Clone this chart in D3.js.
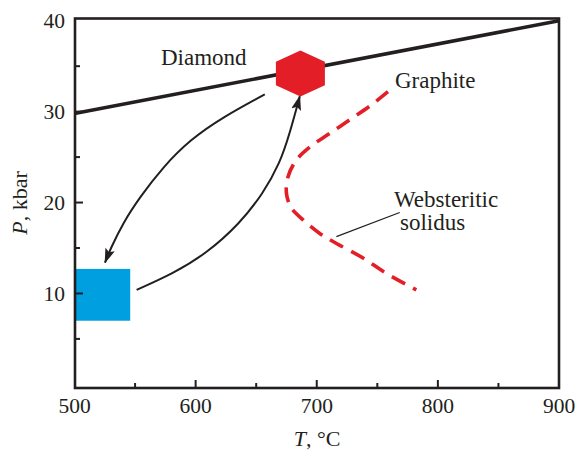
<!DOCTYPE html>
<html>
<head>
<meta charset="utf-8">
<script src="https://cdn.jsdelivr.net/npm/d3@7"></script>
<style>
  html, body { margin: 0; padding: 0; background: #fff; }
  svg { display: block; font-family: "Liberation Serif", "Times New Roman", serif; }
</style>
</head>
<body>
<svg id="chart" width="579" height="451"></svg>
<script>
// Axis ticks
const xTicks = [500, 600, 700, 800, 900];
const xMinorTicks = [550, 650, 750, 850];
const yTicks = [10, 20, 30, 40];
const yMinorTicks = [5, 15, 25, 35];

// Diamond–graphite boundary (T, °C ; P, kbar)
const diamondT = [500, 900];
const diamondP = [29.8, 40];

// Websteritic solidus
const solidusT = [758.8, 743.7, 727.2, 710.7, 694.2, 683.3, 676.3, 675.0, 679.1, 688.7, 702.5, 716.3, 738.2, 757.5, 782.2];
const solidusP = [32.2, 30.6, 29.1, 27.6, 26.1, 24.7, 22.85, 21.0, 19.4, 18.1, 16.6, 15.5, 13.9, 12.2, 10.4];

// Peak (UHP) conditions and crustal starting field
const peakT = 686.5;
const peakP = 34.2;
const crustT = [500, 546];
const crustP = [7.0, 12.7];

// Burial path (crust -> peak) and exhumation path (peak -> crust)
const burialT = [551.3, 581.5, 609.0, 636.5, 655.7, 669.5, 677.7, 686.0];
const burialP = [10.4, 12.2, 14.4, 17.7, 21.0, 24.3, 27.6, 31.7];
const exhumT = [657.1, 622.5, 595.3, 573.0, 554.0, 540.0, 529.3, 525.2];
const exhumP = [31.9, 29.4, 26.9, 23.9, 20.6, 17.75, 14.8, 13.4];

// Leader line for the solidus label
const leaderT = [716.2, 768.5];
const leaderP = [16.25, 18.9];

const svg = d3.select("#chart");
const x = d3.scaleLinear().domain([500, 900]).range([74.5, 559]);
const y = d3.scaleLinear().domain([-0.4, 40.3]).range([388, 18]);

const ink = "#231f20";
const red = "#e31e26";
const blue = "#009fe0";

// Arrowhead marker
const defs = svg.append("defs");
defs.append("marker")
  .attr("id", "head")
  .attr("viewBox", "0 0 15 10")
  .attr("refX", 14).attr("refY", 5)
  .attr("markerWidth", 15).attr("markerHeight", 10)
  .attr("markerUnits", "userSpaceOnUse")
  .attr("orient", "auto")
  .append("path")
  .attr("d", "M0,0 L15,5 L0,10 L3,5 Z")
  .attr("fill", ink);

// Crustal field
svg.append("rect")
  .attr("x", x(crustT[0]))
  .attr("y", y(crustP[1]))
  .attr("width", x(crustT[1]) - x(crustT[0]))
  .attr("height", y(crustP[0]) - y(crustP[1]))
  .attr("fill", blue);

// Diamond–graphite line
const line = d3.line().x(d => x(d[0])).y(d => y(d[1]));
svg.append("path")
  .attr("d", line(d3.zip(diamondT, diamondP)))
  .attr("fill", "none").attr("stroke", ink).attr("stroke-width", 3.6);

// Solidus
svg.append("path")
  .attr("d", d3.line().x(d => x(d[0])).y(d => y(d[1])).curve(d3.curveCatmullRom)(d3.zip(solidusT, solidusP)))
  .attr("fill", "none").attr("stroke", red).attr("stroke-width", 3.6)
  .attr("stroke-dasharray", "15,9");

// P–T paths
const path = d3.line().x(d => x(d[0])).y(d => y(d[1])).curve(d3.curveBasis);
svg.append("path")
  .attr("d", path(d3.zip(burialT, burialP)))
  .attr("fill", "none").attr("stroke", ink).attr("stroke-width", 2)
  .attr("marker-end", "url(#head)");
svg.append("path")
  .attr("d", path(d3.zip(exhumT, exhumP)))
  .attr("fill", "none").attr("stroke", ink).attr("stroke-width", 2)
  .attr("marker-end", "url(#head)");

// Peak hexagon
const cx = x(peakT), cy = y(peakP);
const hw = 24.5, hh = 23, sh = 11.7;
const hex = [[cx, cy - hh], [cx + hw, cy - sh], [cx + hw, cy + sh], [cx, cy + hh], [cx - hw, cy + sh], [cx - hw, cy - sh]];
svg.append("polygon")
  .attr("points", hex.map(p => p.join(",")).join(" "))
  .attr("fill", red);

// Leader line
svg.append("path")
  .attr("d", line(d3.zip(leaderT, leaderP)))
  .attr("fill", "none").attr("stroke", ink).attr("stroke-width", 1.2);

// Frame
svg.append("rect")
  .attr("x", 75).attr("y", 18.5)
  .attr("width", 559 - 75).attr("height", 388 - 18.5)
  .attr("fill", "none").attr("stroke", ink).attr("stroke-width", 2.6);

// Ticks (inward)
const tickG = svg.append("g").attr("stroke", ink).attr("stroke-width", 2);
tickG.selectAll(".xt").data(xTicks.slice(1, -1)).join("line")
  .attr("x1", d => x(d)).attr("x2", d => x(d)).attr("y1", 388).attr("y2", 380);
tickG.selectAll(".xm").data(xMinorTicks).join("line")
  .attr("x1", d => x(d)).attr("x2", d => x(d)).attr("y1", 388).attr("y2", 383);
tickG.selectAll(".yt").data(yTicks.slice(0, -1)).join("line")
  .attr("y1", d => y(d)).attr("y2", d => y(d)).attr("x1", 75).attr("x2", 83);
tickG.selectAll(".ym").data(yMinorTicks).join("line")
  .attr("y1", d => y(d)).attr("y2", d => y(d)).attr("x1", 75).attr("x2", 80);

// Tick labels
svg.selectAll(".xl").data(xTicks).join("text")
  .attr("x", d => x(d)).attr("y", 413)
  .attr("text-anchor", "middle")
  .attr("font-size", 21.5).attr("fill", ink)
  .text(d => d);
svg.selectAll(".yl").data(yTicks).join("text")
  .attr("x", 65).attr("y", d => y(d) + 7.5)
  .attr("text-anchor", "end")
  .attr("font-size", 21.5).attr("fill", ink)
  .text(d => d);

// Axis titles
const xt = svg.append("text")
  .attr("x", 317).attr("y", 446)
  .attr("text-anchor", "middle")
  .attr("font-size", 22).attr("fill", ink);
xt.append("tspan").attr("font-style", "italic").text("T");
xt.append("tspan").text(", °C");

const yt = svg.append("text")
  .attr("transform", "translate(27,203) rotate(-90)")
  .attr("text-anchor", "middle")
  .attr("font-size", 22).attr("fill", ink);
yt.append("tspan").attr("font-style", "italic").text("P");
yt.append("tspan").text(", kbar");

// Field labels
const label = (tx, ty, s) => svg.append("text")
  .attr("x", tx).attr("y", ty)
  .attr("font-size", 23).attr("fill", ink)
  .text(s);
label(161, 65, "Diamond");
label(395, 88, "Graphite");
label(394, 206.5, "Websteritic");
label(400, 230, "solidus");
</script>
</body>
</html>
